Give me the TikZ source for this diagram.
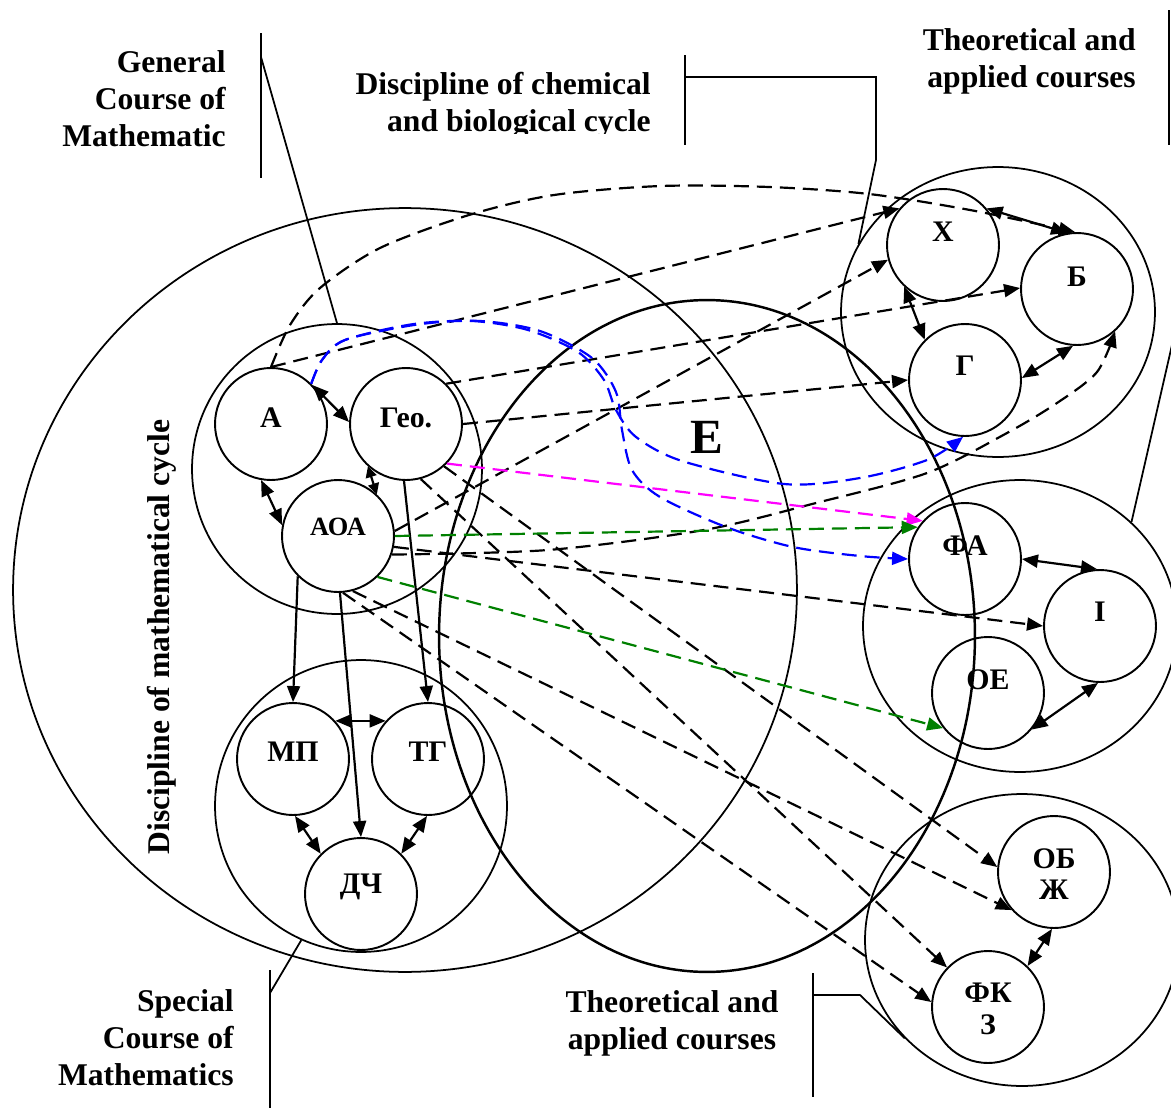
\documentclass[tikz,border=0pt]{standalone}
\usepackage{fontspec}
\setmainfont{Liberation Serif}
\usetikzlibrary{arrows.meta,shapes.geometric}
\definecolor{mgt}{RGB}{255,0,255}
\definecolor{grn}{RGB}{0,128,0}
\definecolor{blu}{RGB}{0,0,255}
\begin{document}
\begin{tikzpicture}[x=0.02cm,y=-0.02cm,
  >={Triangle[length=0.32cm,width=0.26cm]},
  nd/.style={circle,draw,line width=1.1pt,minimum size=2.24cm,inner sep=0pt},
  grp/.style={draw,line width=1pt,inner sep=0pt},
  lab/.style={font=\bfseries\fontsize{17}{18}\selectfont,align=center,inner sep=0pt},
  txt/.style={font=\bfseries\fontsize{18}{21}\selectfont,inner sep=0pt},
  dsh/.style={line width=1.25pt,dash pattern=on 0.3cm off 0.16cm},
  sol/.style={line width=1.25pt},
  ldr/.style={line width=1pt}
]
\useasboundingbox (0,0) rectangle (1171,1109);
\clip (0,0) rectangle (1171,1109);

% group shapes
\node[grp,ellipse,minimum width=15.68cm,minimum height=15.28cm] (math) at (405,590) {};
\node[grp,ellipse,line width=1.4pt,minimum width=10.72cm,minimum height=13.44cm] (E) at (707,636) {};
\node[grp,circle,minimum size=5.8cm] (gen) at (337,469) {};
\node[grp,circle,minimum size=5.84cm] (spec) at (361,806) {};
\node[grp,ellipse,minimum width=6.28cm,minimum height=5.8cm] (chem) at (998,312) {};
\node[grp,ellipse,minimum width=6.28cm,minimum height=5.84cm] (phys) at (1020,626) {};
\node[grp,ellipse,minimum width=6.28cm,minimum height=5.84cm] (safe) at (1022,940) {};

% course nodes
\node[nd] (A) at (271,424) {};
\node[nd] (Geo) at (406,424) {};
\node[nd] (AOA) at (338,536) {};
\node[nd] (MP) at (293,759) {};
\node[nd] (TG) at (428,759) {};
\node[nd] (DCh) at (361,894) {};
\node[nd] (X) at (943,245) {};
\node[nd] (B) at (1077,289) {};
\node[nd] (G) at (965,380) {};
\node[nd] (FA) at (965,559) {};
\node[nd] (I) at (1100,626) {};
\node[nd] (OE) at (988,693) {};
\node[nd] (OBZh) at (1054,872) {};
\node[nd] (FKZ) at (988,1007) {};

% labels in nodes
\node[lab] (tA) at (271,418) {А};
\node[lab] (tGeo) at (406,418) {Гео.};
\node[lab,font=\bfseries\fontsize{15}{16}\selectfont] (tAOA) at (338,527) {АОА};
\node[lab] (tMP) at (293,752) {МП};
\node[lab] (tTG) at (428,752) {ТГ};
\node[lab] (tDCh) at (361,887) {ДЧ};
\node[lab] (tX) at (943,232) {Х};
\node[lab] (tB) at (1077,277) {Б};
\node[lab] (tG) at (965,366) {Г};
\node[lab] (tFA) at (965,546) {ФА};
\node[lab] (tI) at (1100,612) {І};
\node[lab] (tOE) at (988,680) {ОЕ};
\node[lab] (tOBZh) at (1054,874) {ОБ\\Ж};
\node[lab] (tFKZ) at (988,1009) {ФК\\З};
\node[font=\bfseries\fontsize{28}{30}\selectfont,inner sep=0pt] (tE) at (707,437) {E};

% outside texts
\node[txt,align=right,anchor=east] (lgen) at (226,99) {General\\Course of\\Mathematic};
\node[txt,align=right,anchor=east] (lspec) at (234,1038) {Special\\Course of\\Mathematics};
\node[txt,align=right,anchor=east] (ltop) at (1136,61) {Theoretical and\\applied courses};
\node[txt,align=center] (lbot) at (672,1023) {Theoretical and\\applied courses};
\begin{scope}
\clip (300,40) rectangle (680,133);
\node[txt,align=right,anchor=east] (lchem) at (651,105) {Discipline of chemical\\and biological cycle};
\end{scope}
\node[font=\bfseries\fontsize{18}{20}\selectfont,inner sep=0pt,rotate=90] (lmath) at (162,637) {Discipline of mathematical cycle};

% leader lines
\coordinate (g1) at (261,33); \coordinate (g2) at (261,178); \coordinate (g3) at (261,57);
\draw[ldr] (g1) -- (g2); \draw[ldr] (g3) -- (gen.north);
\coordinate (s1) at (270,970); \coordinate (s2) at (270,1108); \coordinate (s3) at (270,993);
\draw[ldr] (s1) -- (s2); \draw[ldr] (s3) -- (spec.-114);
\coordinate (c1) at (685,55); \coordinate (c2) at (685,145); \coordinate (c3) at (685,77);
\coordinate (c4) at (876,77); \coordinate (c5) at (876,160);
\draw[ldr] (c1) -- (c2); \draw[ldr] (c3) -- (c4) -- (c5) -- (chem.154);
\coordinate (t1) at (1169,10); \coordinate (t2) at (1169,145); \coordinate (t3) at (1180,310);
\draw[ldr] (t1) -- (t2); \draw[ldr] (phys.43) -- (t3);
\coordinate (b1) at (813,973); \coordinate (b2) at (813,1097); \coordinate (b3) at (813,995); \coordinate (b4) at (860,995);
\draw[ldr] (b1) -- (b2); \draw[ldr] (b3) -- (b4) -- (safe.220);

% solid connectors
\draw[sol,<->] (A.43) -- (Geo.178);
\draw[sol,<->] (A.260) -- (AOA.169);
\draw[sol,{Triangle[length=0.22cm,width=0.22cm]}-{Triangle[length=0.22cm,width=0.22cm]}] (Geo.228) -- (AOA.47);
\draw[sol,->] (AOA.225) -- (MP.north);
\draw[sol,->] (AOA.-88) -- (DCh.north);
\draw[sol,->] (Geo.-92) -- (TG.north);
\draw[sol,<->] (MP.42) -- (TG.138);
\draw[sol,<->] (MP.-88) -- (DCh.135);
\draw[sol,<->] (TG.-91) -- (DCh.45);
\draw[sol,<->] (X.40) -- (B.100);
\draw[sol,<->] (X.227) -- (G.135);
\draw[sol,<->] (B.-94) -- (G.2);
\draw[sol,<->] (FA.east) -- (I.93);
\draw[sol,<->] (I.-92) -- (OE.-40);
\draw[sol,<->] (OBZh.-92) -- (FKZ.46);

% dashed black connectors
\draw[dsh,->] plot[smooth] coordinates {(A.north) (290,325) (320,288) (380,248) (469,215) (554,195) (661,186) (769,187) (869,194) (970,210) (B.92)};
\draw[dsh,->] (A.north) -- (X.140);
\draw[dsh,->] (Geo.45) -- (B.179);
\draw[dsh,->] (Geo.east) -- (G.west);
\draw[dsh,->] (AOA.5) -- (X.195);
\draw[dsh,->] (AOA.-11) -- (I.west);
\draw[dsh,->] plot[smooth] coordinates {(AOA.-19) (548,550) (704,530) (816,503) (927,473) (1007,433) (1057,403) (1097,372) (B.-48)};
\draw[dsh,->] (Geo.-48) -- (OBZh.175);
\draw[dsh,->] (Geo.-75) -- (FKZ.136);
\draw[dsh,->] (AOA.-75) -- (OBZh.222);
\draw[dsh,->] (AOA.-85) -- (FKZ.175);

% coloured connectors
\draw[dsh,blu,->] plot[smooth] coordinates {(A.45) (322,360) (345,340) (414,325) (472,321) (528,330) (578,352) (604,380) (616,410) (636,437) (682,461) (784,484) (860,478) (927,460) (G.-92)};
\draw[dsh,blu,->] plot[smooth] coordinates {(A.45) (322,360) (345,340) (414,324) (480,321) (540,331) (592,358) (616,392) (622,430) (632,470) (660,497) (726,527) (793,547) (860,556) (FA.west)};
\draw[dsh,mgt,->] (Geo.-44) -- (FA.138);
\draw[dsh,grn,->] (AOA.0) -- (FA.146);
\draw[dsh,grn,->] (AOA.-46) -- (OE.218);
\end{tikzpicture}
\end{document}
